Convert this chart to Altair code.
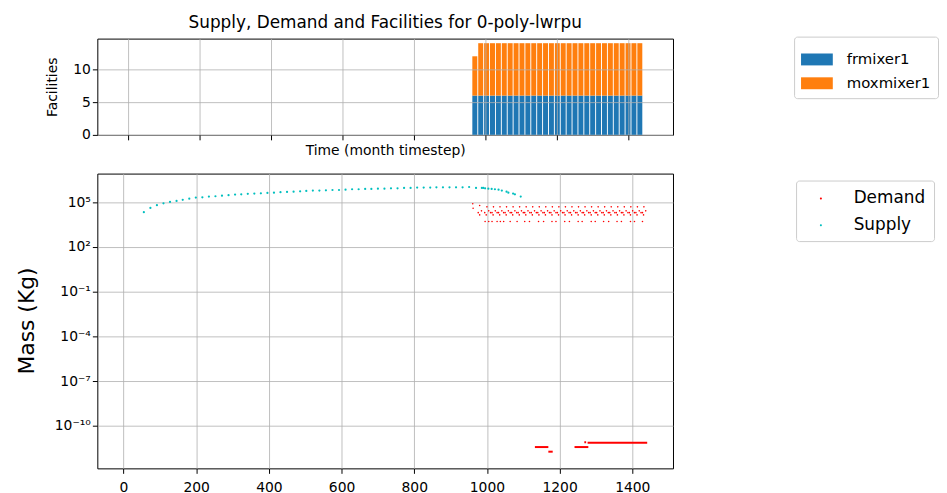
import altair as alt
import pandas as pd

FONT = "DejaVu Sans"

# ---------------- Facilities (top panel) ----------------
bar_time = [971, 987.5, 1004, 1020.5, 1037, 1053.5, 1070, 1086.5, 1103, 1119.5,
            1136, 1152.5, 1169, 1185.5, 1202, 1218.5, 1235, 1251.5, 1268, 1284.5,
            1301, 1317.5, 1334, 1350.5, 1367, 1383.5, 1400, 1416.5, 1433]
frmixer1_count = [6, 6, 6, 6, 6, 6, 6, 6, 6, 6, 6, 6, 6, 6, 6, 6, 6, 6, 6, 6,
                  6, 6, 6, 6, 6, 6, 6, 6, 6]
moxmixer1_count = [6, 8, 8, 8, 8, 8, 8, 8, 8, 8, 8, 8, 8, 8, 8, 8, 8, 8, 8, 8,
                   8, 8, 8, 8, 8, 8, 8, 8, 8]
facility_names = ["frmixer1", "moxmixer1"]
facility_colors = ["#1f77b4", "#ff7f0e"]

# ---------------- Supply / Demand (bottom panel) ----------------
supply_time = [56, 74, 92, 110, 128, 146, 163, 181, 199, 217, 235, 253, 271, 289, 307,
               324, 342, 360, 378, 396, 414, 432, 450, 468, 486, 503, 521, 539, 557,
               575, 593, 611, 629, 647, 665, 682, 700, 718, 736, 754, 772, 790, 808,
               826, 844, 861, 879, 897, 915, 933, 951,
               970, 986, 990, 995, 1004, 1013, 1022, 1032, 1041, 1054, 1059, 1072,
               1077, 1093]
supply_mass = [21400, 41700, 63100, 85100, 105000, 123000, 145000, 174000, 204000,
               214000, 240000, 251000, 275000, 295000, 324000, 339000, 363000,
               380000, 398000, 417000, 437000, 468000, 490000, 513000, 537000,
               575000, 603000, 603000, 631000, 661000, 661000, 692000, 741000,
               741000, 776000, 776000, 813000, 813000, 851000, 851000, 912000,
               912000, 955000, 955000, 955000, 1000000, 1000000, 1000000, 1000000,
               1000000, 1047000,
               912000, 912000, 912000, 851000, 813000, 776000, 741000, 692000,
               603000, 513000, 437000, 380000, 339000, 240000]

demand_time = [961, 962, 980,
               # upper row
               1000, 1018, 1036, 1054, 1072, 1090, 1108, 1126, 1144, 1162, 1180, 1198,
               1216, 1234, 1252, 1270, 1288, 1306, 1324, 1342, 1360, 1378, 1396, 1414,
               1432,
               # middle rows
               985, 1005, 1023, 1041, 1059, 1077, 1095, 1113, 1131, 1149, 1167, 1185,
               1203, 1221, 1239, 1257, 1275, 1293, 1311, 1329, 1347, 1365, 1383, 1401,
               1419, 1437,
               976, 994, 1010, 1014, 1028, 1032, 1046, 1050, 1064, 1068, 1082, 1086,
               1100, 1104, 1118, 1122, 1136, 1140, 1154, 1158, 1172, 1176, 1190, 1194,
               1208, 1212, 1226, 1230, 1244, 1248, 1262, 1266, 1280, 1284, 1298, 1302,
               1316, 1320, 1334, 1338, 1352, 1356, 1370, 1374, 1388, 1392, 1406, 1410,
               1424, 1428,
               980, 998, 1017, 1035, 1053, 1071, 1089, 1107, 1125, 1143, 1161, 1179,
               1197, 1215, 1233, 1251, 1269, 1287, 1305, 1323, 1341, 1359, 1377, 1395,
               1413, 1431,
               # lower row
               995, 1005, 1014, 1028, 1037, 1046, 1064, 1083, 1104, 1117, 1142, 1156,
               1179, 1190, 1214, 1227, 1251, 1262, 1287, 1298, 1321, 1335, 1358, 1370,
               1395, 1406, 1428]
demand_mass = ([79400, 39800, 60300] +
               [49000, 49000, 49000, 49000, 49000, 49000, 49000, 49000, 49000, 49000,
                49000, 49000, 49000, 49000, 49000, 49000, 49000, 49000, 49000, 49000,
                49000, 49000, 49000, 49000, 49000] +
               [26300, 26300, 26300, 26300, 26300, 26300, 26300, 26300, 26300, 26300,
                26300, 26300, 26300, 26300, 26300, 26300, 26300, 26300, 26300, 26300,
                26300, 26300, 26300, 26300, 26300, 26300] +
               [20000, 20000, 20000, 20000, 20000, 20000, 20000, 20000, 20000, 20000,
                20000, 20000, 20000, 20000, 20000, 20000, 20000, 20000, 20000, 20000,
                20000, 20000, 20000, 20000, 20000, 20000, 20000, 20000, 20000, 20000,
                20000, 20000, 20000, 20000, 20000, 20000, 20000, 20000, 20000, 20000,
                20000, 20000, 20000, 20000, 20000, 20000, 20000, 20000, 20000, 20000] +
               [14100, 14100, 14100, 14100, 14100, 14100, 14100, 14100, 14100, 14100,
                14100, 14100, 14100, 14100, 14100, 14100, 14100, 14100, 14100, 14100,
                14100, 14100, 14100, 14100, 14100, 14100] +
               [5130, 5130, 5130, 5130, 5130, 5130, 5130, 5130, 5130, 5130, 5130, 5130,
                5130, 5130, 5130, 5130, 5130, 5130, 5130, 5130, 5130, 5130, 5130, 5130,
                5130, 5130, 5130])

# tiny demand runs near 1e-11 (dense monthly points drawn as runs)
low_start = [1132, 1169, 1241, 1268, 1277]
low_end = [1169, 1181, 1279, 1273, 1441]
low_mass = [3.8e-12, 1.86e-12, 3.8e-12, 8.0e-12, 7.4e-12]

series_names = ["Demand", "Supply"]
series_colors = ["#ff0000", "#00bfbf"]

x_ticks = [0, 200, 400, 600, 800, 1000, 1200, 1400]
y_log_ticks = [1e-10, 1e-7, 1e-4, 1e-1, 1e2, 1e5]

# ---------------- tables ----------------
fac_rows = []
for t, f, m in zip(bar_time, frmixer1_count, moxmixer1_count):
    fac_rows.append({"time": t, "facility": facility_names[0], "count": f, "ord": 0})
    fac_rows.append({"time": t, "facility": facility_names[1], "count": m, "ord": 1})
fac_df = pd.DataFrame(fac_rows)

supply_df = pd.DataFrame({"time": supply_time, "mass": supply_mass, "series": "Supply"})
demand_df = pd.DataFrame({"time": demand_time, "mass": demand_mass, "series": "Demand"})
low_df = pd.DataFrame({"start": low_start, "end": low_end, "mass": low_mass})

x_scale = alt.Scale(domain=[-72, 1512], nice=False, zero=False)

# legend glyphs (kept inside the unit box): a 32x12 px rectangle and a small dot
rect_path = "M-1,-0.375H1V0.375H-1Z"
dot_path = "M0.6,0A0.1,0.1,0,1,1,0.8,0A0.1,0.1,0,1,1,0.6,0Z"

top = alt.Chart(fac_df).mark_bar(size=5).encode(
    x=alt.X("time:Q", scale=x_scale,
            axis=alt.Axis(values=x_ticks, labels=False, title="Time (month timestep)",
                          titlePadding=3, titleFontSize=14, zindex=1)),
    y=alt.Y("count:Q", stack="zero",
            scale=alt.Scale(domain=[0, 14.7], nice=False),
            axis=alt.Axis(values=[0, 5, 10], title="Facilities", titleFontSize=14,
                          titleX=-45, titleY=48.5, titleAngle=-90,
                          titleAlign="center", titleBaseline="middle", zindex=1)),
    color=alt.Color("facility:N",
                    scale=alt.Scale(domain=facility_names, range=facility_colors),
                    legend=alt.Legend(title=None, orient="none", legendX=702, legendY=-2,
                                      symbolType=rect_path, symbolSize=1024,
                                      symbolStrokeWidth=0, labelFont=FONT,
                                      labelFontSize=15, labelColor="black",
                                      labelOffset=14, padding=7, rowPadding=0,
                                      strokeColor="#cccccc", fillColor="white",
                                      cornerRadius=3)),
    order=alt.Order("ord:Q"),
).properties(
    width=580, height=97,
    title=alt.TitleParams("Supply, Demand and Facilities for 0-poly-lwrpu",
                          font=FONT, fontSize=17, fontWeight="normal", color="black",
                          anchor="middle", frame="group", offset=4),
)

y_scale = alt.Scale(type="log", domain=[10 ** -12.85, 10 ** 6.92], nice=False)
label_expr = ("datum.value < 1e-9 ? '10⁻¹⁰' : datum.value < 1e-6 ? '10⁻⁷' : "
              "datum.value < 1e-3 ? '10⁻⁴' : datum.value < 1 ? '10⁻¹' : "
              "datum.value < 1000 ? '10²' : '10⁵'")

color_enc = alt.Color("series:N",
                      scale=alt.Scale(domain=series_names, range=series_colors),
                      legend=alt.Legend(title=None, orient="none", legendX=704, legendY=7,
                                        symbolType=dot_path, symbolSize=400,
                                        symbolStrokeWidth=0, labelFont=FONT,
                                        labelFontSize=17, labelColor="black",
                                        labelOffset=30, padding=8, rowPadding=9,
                                        strokeColor="#cccccc", fillColor="white",
                                        cornerRadius=3))

x_bottom = alt.X("time:Q", scale=x_scale,
                 axis=alt.Axis(values=x_ticks, title=None, labelPadding=7, format="d"))
y_bottom = alt.Y("mass:Q", scale=y_scale,
                 axis=alt.Axis(values=y_log_ticks, labelExpr=label_expr,
                               title="Mass (Kg)", titleFontSize=22,
                               titleX=-71, titleY=148, titleAngle=-90,
                               titleAlign="center", titleBaseline="middle"))

demand_layer = alt.Chart(demand_df).mark_circle(size=2.5, opacity=1).encode(
    x=x_bottom, y=y_bottom, color=color_enc)
supply_layer = alt.Chart(supply_df).mark_circle(size=5, opacity=1).encode(
    x=x_bottom, y=y_bottom, color=color_enc)
low_layer = alt.Chart(low_df).mark_rule(color="#ff0000", strokeWidth=2).encode(
    x=alt.X("start:Q", scale=x_scale), x2="end:Q",
    y=alt.Y("mass:Q", scale=y_scale))

bottom = alt.layer(low_layer, demand_layer, supply_layer).properties(width=580, height=297)

chart = alt.vconcat(top, bottom, spacing=15).resolve_scale(
    color="independent").resolve_legend(color="independent").properties(
    padding={"left": 7, "top": 4, "right": 0, "bottom": 0}
).configure_view(stroke="black", strokeWidth=1).configure_axis(
    domain=False, grid=True, gridColor="#b0b0b0", gridWidth=0.8,
    tickColor="black", tickWidth=1, tickSize=5,
    labelFont=FONT, labelFontSize=14, labelColor="black",
    titleFont=FONT, titleFontWeight="normal", titleColor="black",
)

chart.save("out.html", embed_options={"renderer": "svg", "actions": False})
